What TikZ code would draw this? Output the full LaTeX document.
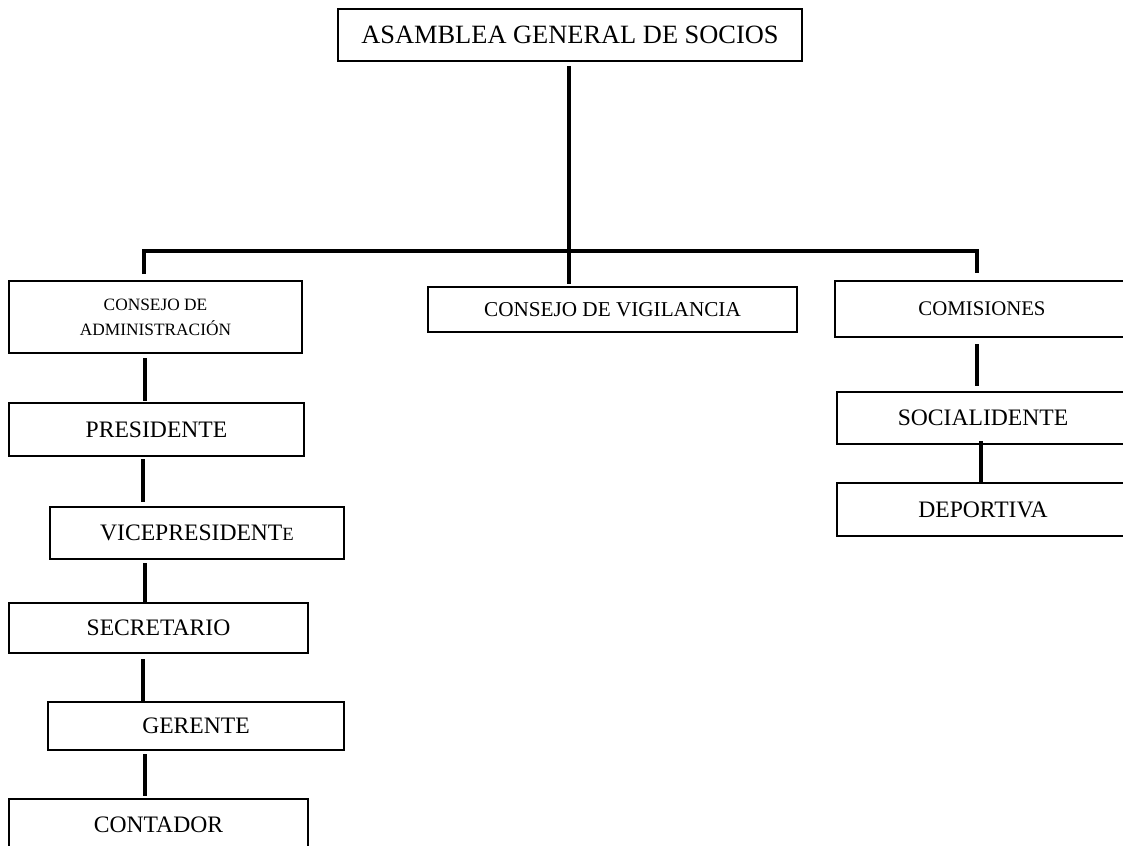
\documentclass[tikz,border=0pt]{standalone}
\usepackage{fontspec}
\setmainfont{Liberation Serif}
\begin{document}
\begin{tikzpicture}[
  x=0.75pt, y=-0.75pt,
  box/.style 2 args={draw, line width=1.5pt, inner sep=0pt, align=center,
    minimum width=#1*0.75pt, minimum height=#2*0.75pt,
    font=\fontsize{17.7}{21}\selectfont},
  link/.style={line width=3pt}
]
\useasboundingbox (0,0) rectangle (1123,845);

% top level
\node[box={464}{52}, font=\fontsize{19.8}{24}\selectfont] (asamblea) at (570,35) {ASAMBLEA GENERAL DE SOCIOS};

% second level
\node[box={293}{72}, font=\fontsize{13}{18.75}\selectfont] (admin) at (155.5,317) {CONSEJO DE\\ADMINISTRACIÓN};
\node[box={369}{45}, font=\fontsize{15.9}{19}\selectfont] (vigil) at (612.5,309.5) {CONSEJO DE VIGILANCIA};
\node[box={294}{56}, font=\fontsize{15.6}{19}\selectfont] (comis) at (982,309) {COMISIONES};

% administration chain
\node[box={295}{53}] (presid) at (156.5,429.5) {PRESIDENTE};
\node[box={294}{52}] (vice)   at (197,533)     {VICEPRESIDENT{\fontsize{14}{17}\selectfont E}};
\node[box={299}{50}] (secr)   at (158.5,628)   {SECRETARIO};
\node[box={296}{48}] (geren)  at (196,726)     {GERENTE};
\node[box={299}{52}] (contad) at (158.5,825)   {CONTADOR};

% commissions
\node[box={292}{52}] (social) at (983,418)   {SOCIALIDENTE};
\node[box={292}{53}] (deport) at (983,509.5) {DEPORTIVA};

% distribution bus
\coordinate (bus)  at (569,250.5);
\coordinate (busL) at (144,250.5);
\coordinate (busR) at (977,250.5);

\draw[link, shorten <=3pt] (bus |- asamblea.south) -- (bus);
\draw[link, shorten <=4.5pt, shorten >=5.25pt, line join=miter]
  (busL |- admin.north) -- (busL) -- (busR) -- (busR |- comis.north);
\draw[link, shorten >=1.5pt] (bus) -- (bus |- vigil.north);

% administration links
\draw[link, shorten <=3pt,    shorten >=0.75pt] (145,0 |- admin.south)  -- (145,0 |- presid.north);
\draw[link, shorten <=1.5pt,  shorten >=3pt]    (143,0 |- presid.south) -- (143,0 |- vice.north);
\draw[link, shorten <=2.25pt]                   (145,0 |- vice.south)   -- (145,0 |- secr.north);
\draw[link, shorten <=3.75pt]                   (143,0 |- secr.south)   -- (143,0 |- geren.north);
\draw[link, shorten <=2.25pt, shorten >=1.5pt]  (145,0 |- geren.south)  -- (145,0 |- contad.north);

% commission links
\draw[link, shorten <=4.5pt, shorten >=3.75pt]  (977,0 |- comis.south)  -- (977,0 |- social.north);
\draw[link, shorten <=-3pt]                     (981,0 |- social.south) -- (981,0 |- deport.north);
\end{tikzpicture}
\end{document}
